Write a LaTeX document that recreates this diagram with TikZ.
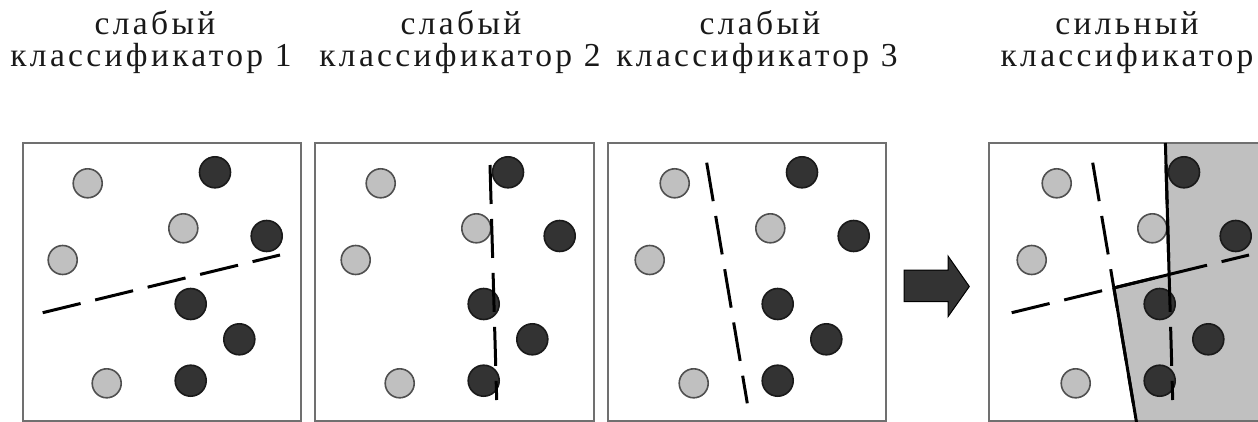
\documentclass[tikz,border=0pt]{standalone}
\usepackage{fontspec}
\setmainfont[LetterSpace=10]{Liberation Serif}
\definecolor{lt}{HTML}{C0C0C0}
\definecolor{ltb}{HTML}{505050}
\definecolor{dk}{HTML}{333333}
\definecolor{dkb}{HTML}{1A1A1A}
\definecolor{bord}{HTML}{707070}
\begin{document}
\begin{tikzpicture}[x=1pt,y=-1pt,
  panel/.style={draw=bord,line width=2.5pt},
  light/.style={circle,draw=ltb,fill=lt,line width=1.6pt,minimum size=29pt,inner sep=0pt},
  dark/.style={circle,draw=dkb,fill=dk,line width=1.6pt,minimum size=31pt,inner sep=0pt},
  sep/.style={line width=3pt,dash pattern=on 39pt off 15pt},
  sol/.style={line width=3pt},
  title/.style={font=\fontsize{33.5}{33}\selectfont,anchor=base,inner sep=0pt,text=black!90}]
\useasboundingbox (0,0) rectangle (1258,422);
% titles
\node[title] (t1a) at (155,35) {слабый};
\node[title] (t1b) at (151,66.7) {классификатор 1};
\node[title] (t2a) at (461,35) {слабый};
\node[title] (t2b) at (460,66.7) {классификатор 2};
\node[title] (t3a) at (760,35) {слабый};
\node[title] (t3b) at (757,66.7) {классификатор 3};
\node[title] (t4a) at (1127,35) {сильный};
\node[title] (t4b) at (1127,66.7) {классификатор};
% panels
\fill[white] (23,143) rectangle (301,421);
\draw[panel] (23,143) rectangle (301,421);
\draw[panel] (315,143) rectangle (594,421);
\draw[panel] (608,143) rectangle (886,421);
\fill[white] (989,143) rectangle (1270,421);
\fill[lt] (1165.4,143) -- (1270,143) -- (1270,430) -- (1137.8,430) -- (1113.9,287.9) -- (1169.1,274.5) -- cycle;
\draw[panel] (989,143) rectangle (1270,421);
% points
\foreach \ox/\n in {0/1,293/2,587/3,969/4}{
  \foreach \x/\y [count=\i] in {87.7/183.3,183.3/228.3,62.7/260,106.7/383.3}
    \node[light] (l\n-\i) at ({\x+\ox},\y) {};
  \foreach \x/\y [count=\i] in {215/172.3,266.7/236,190.7/304,239.3/339.3,190.7/380.7}
    \node[dark] (d\n-\i) at ({\x+\ox},\y) {};
}
% weak classifiers
\draw[sep] (42.7,312.7) -- (280,255);
\draw[sep] (490,165) -- (496.7,400);
\draw[sep] (706.7,162.7) -- (747.3,403.3);
% strong classifier
\draw[sep] (1011.7,312.7) -- (1249,255);
\draw[sep] (1166,165) -- (1172.7,400);
\draw[sep] (1092.7,162.7) -- (1133.3,403.3);
\draw[sol] (1165.4,143) -- (1169.1,274.5);
\draw[sol] (1113.9,287.9) -- (1169.1,274.5);
\draw[sol] (1113.9,287.9) -- (1137.8,430);
% arrow
\draw[fill=dk,draw=black,line width=1pt] (904,270) -- (948,270) -- (948,256) -- (969.3,286.5) -- (948,316.7) -- (948,301.7) -- (904,301.7) -- cycle;
\end{tikzpicture}
\end{document}
